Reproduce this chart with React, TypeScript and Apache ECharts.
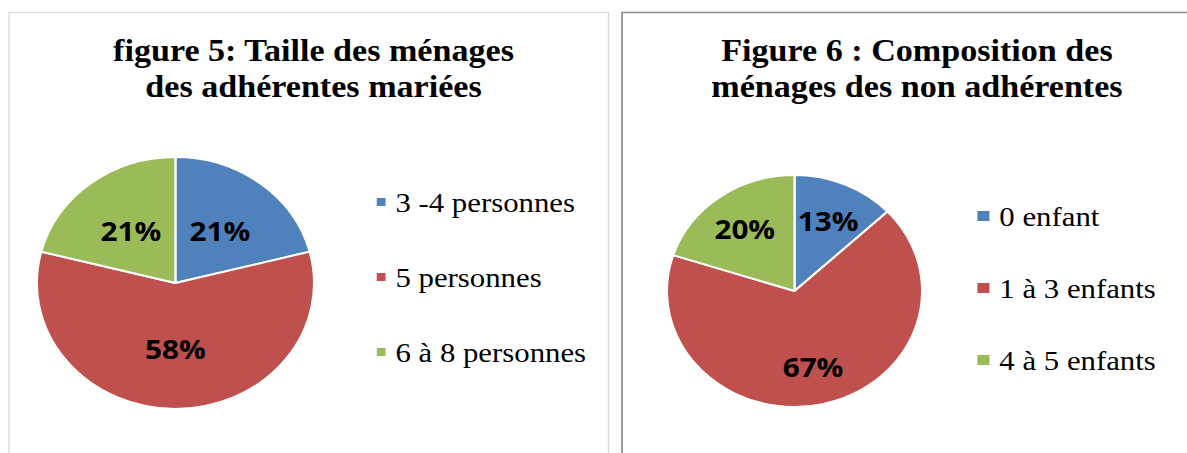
import React, { useEffect, useRef } from "react";
import * as echarts from "echarts";

const fig5Title = "figure 5: Taille des ménages\ndes adhérentes mariées";
const fig5Categories = ["3 -4 personnes", "5 personnes", "6 à 8 personnes"];
const fig5Values = [21, 58, 21];

const fig6Title = "Figure 6 : Composition des\nménages des non adhérentes";
const fig6Categories = ["0 enfant", "1 à 3 enfants", "4 à 5 enfants"];
const fig6Values = [13, 67, 20];

const sliceColors = ["#4F81BD", "#C0504D", "#9BBB59"];

const STRETCH = 1.1;
const W = 1187 / STRETCH;
const H = 453;

export default function App() {
  const ref = useRef<HTMLDivElement>(null);

  useEffect(() => {
    if (!ref.current) return;
    const chart = echarts.init(ref.current, null, { renderer: "svg" });

    const mk = (cats: string[], vals: number[], named: boolean) =>
      cats.map((c, i) => ({
        name: named ? c : "",
        value: vals[i],
        itemStyle: named ? { color: sliceColors[i] } : undefined,
      }));

    const labelStyle = {
      fontFamily: "Open Sans",
      fontWeight: "bold" as const,
      fontSize: 27,
      color: "#000",
    };

    const legendText = {
      fontFamily: "Liberation Serif",
      fontSize: 28,
      color: "#000",
      lineHeight: 30,
      padding: [0, 0, 0, 3],
    };

    const titleText = {
      fontFamily: "Liberation Serif",
      fontWeight: "bold" as const,
      fontSize: 31,
      lineHeight: 36,
      color: "#000",
    };

    chart.setOption({
      animation: false,
      backgroundColor: "#fff",
      color: sliceColors,
      title: [
        { text: fig5Title, left: 280, top: 28, textAlign: "center", textStyle: titleText },
        { text: fig6Title, left: 828.6, top: 28, textAlign: "center", textStyle: titleText },
      ],
      legend: [
        {
          orient: "vertical",
          left: 335.5,
          top: 182,
          itemWidth: 10,
          itemHeight: 10,
          itemGap: 45,
          icon: "rect",
          selectedMode: false,
          data: fig5Categories,
          textStyle: legendText,
        },
        {
          orient: "vertical",
          left: 881.5,
          top: 196,
          itemWidth: 13,
          itemHeight: 12,
          itemGap: 42,
          icon: "rect",
          selectedMode: false,
          data: fig6Categories,
          textStyle: legendText,
        },
      ],
      graphic: [
        {
          type: "rect",
          shape: { x: 8.2, y: 12.5, width: 545, height: 520 },
          style: { fill: "none", stroke: "#d9d9d9", lineWidth: 1.2 },
          silent: true,
        },
        {
          type: "rect",
          shape: { x: 565.5, y: 12.5, width: 600, height: 520 },
          style: { fill: "none", stroke: "#8c8c8c", lineWidth: 1.6 },
          silent: true,
        },
      ],
      series: [
        {
          type: "pie",
          center: [159.5, 283],
          radius: [0, 126],
          startAngle: 90,
          clockwise: true,
          z: 2,
          silent: true,
          data: mk(fig5Categories, fig5Values, true),
          itemStyle: { borderColor: "#fff", borderWidth: 2 },
          label: {
            show: true,
            position: "inside",
            formatter: (p: any) => `${p.value}%`,
            ...labelStyle,
          },
          labelLine: { show: false },
          emphasis: { disabled: true },
        },
        {
          type: "pie",
          center: [722.3, 291],
          radius: [0, 116],
          startAngle: 90,
          clockwise: true,
          z: 2,
          silent: true,
          data: mk(fig6Categories, fig6Values, true),
          itemStyle: { borderColor: "#fff", borderWidth: 2 },
          label: { show: false },
          labelLine: { show: false },
          emphasis: { disabled: true },
        },
        {
          type: "pie",
          center: [722.3, 291],
          radius: [0, 148],
          startAngle: 90,
          clockwise: true,
          z: 3,
          silent: true,
          data: mk(fig6Categories, fig6Values, false),
          itemStyle: { color: "rgba(0,0,0,0)", borderWidth: 0 },
          label: {
            show: true,
            position: "inside",
            formatter: (p: any) => `${p.value}%`,
            ...labelStyle,
          },
          labelLine: { show: false },
          emphasis: { disabled: true },
        },
      ],
    });

    return () => chart.dispose();
  }, []);

  return (
    <div
      style={{
        position: "fixed",
        left: 0,
        top: 0,
        width: 1187,
        height: H,
        overflow: "hidden",
        background: "#fff",
      }}
    >
      <div
        ref={ref}
        style={{
          width: W,
          height: H,
          transform: `scaleX(${STRETCH})`,
          transformOrigin: "0 0",
        }}
      />
    </div>
  );
}
